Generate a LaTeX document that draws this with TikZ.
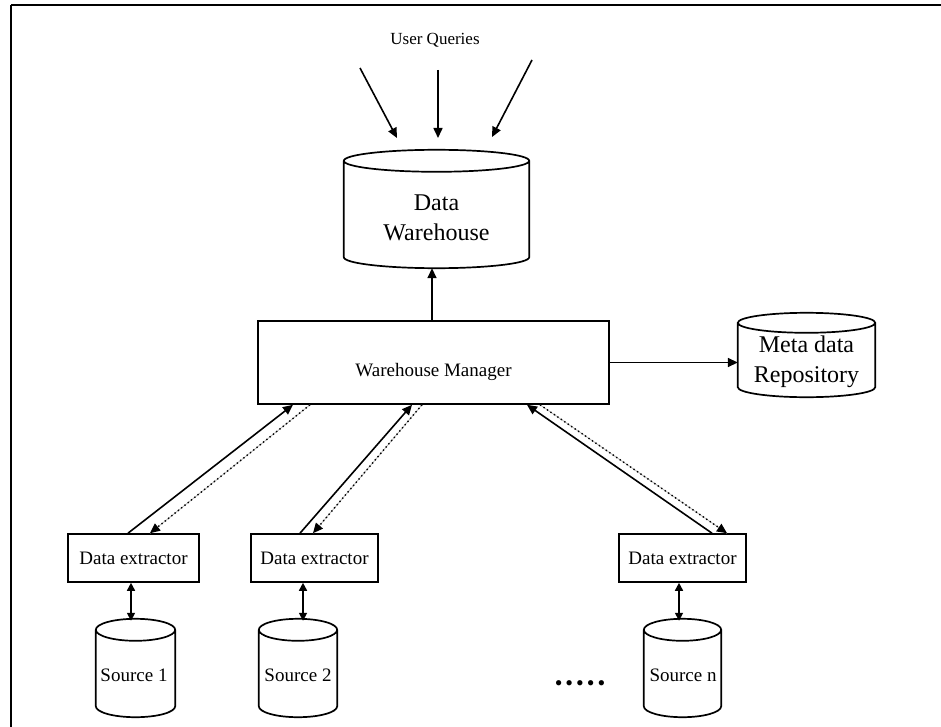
\documentclass[tikz,border=0pt]{standalone}
\usepackage{fontspec}
\setmainfont{Liberation Serif}
\usetikzlibrary{arrows.meta,calc}

% cylinder outline drawn over a (blank) node: #1 node name, #2 end-ellipse y radius
\newcommand\drumoutline[2]{%
  \draw[cylline] let \p1=(#1.north west), \p2=(#1.south east), \n1={(\x2-\x1)/2} in
    (\x1,\y1-#2pt) -- (\x1,\y2+#2pt)
    arc[start angle=180,end angle=360,x radius=\n1,y radius=#2pt]
    -- (\x2,\y1-#2pt)
    (\x1+\n1,\y1-#2pt) ellipse[x radius=\n1,y radius=#2pt];}

\begin{document}
\begin{tikzpicture}[x=1pt,y=-1pt,
  box/.style={draw, line width=1.6pt, inner sep=0pt},
  drum/.style={inner sep=0pt},
  cylline/.style={line width=1.7pt},
  tip/.style={line width=1.6pt, -{Triangle[length=10pt,width=9pt]}},
  dbl/.style={line width=1.6pt, {Triangle[length=8pt,width=8pt]}-{Triangle[length=8pt,width=8pt]}},
  dotline/.style={-{Triangle[length=10pt,width=9pt]}, line width=1.4pt,
    dash pattern=on 1.4pt off 2.8pt,
    preaction={draw=gray!55, line width=0.8pt, solid, -}},
  big/.style={font=\fontsize{24}{30}\selectfont, align=center, inner sep=0pt},
  mid/.style={font=\fontsize{19}{23}\selectfont, inner sep=0pt},
  small/.style={font=\fontsize{17}{20}\selectfont, inner sep=0pt}
]
\useasboundingbox (0,0) rectangle (941,727);

% page frame
\draw[line width=2.4pt] (11,5) -- (941,5);
\draw[line width=2pt] (11,5) -- (11,727);

% user queries
\node[small] (uq) at (435,40) {User Queries};
\coordinate (q1s) at (360,68);  \coordinate (q1e) at (397,138);
\coordinate (q2s) at (438,70);  \coordinate (q2e) at (438,138);
\coordinate (q3s) at (532,60);  \coordinate (q3e) at (492,137);
\draw[tip] (q1s) -- (q1e);
\draw[tip] (q2s) -- (q2e);
\draw[tip] (q3s) -- (q3e);

% data warehouse
\node[drum, minimum width=185, minimum height=118] (dw) at (436.5,209) {};
\drumoutline{dw}{11}
\node[big] (dwtext) at (436.5,218) {Data\\Warehouse};

% warehouse manager
\node[box, minimum width=351, minimum height=83] (mgr) at (433.5,362.5) {};
\node[mid] (mgrtext) at (433.5,372) {Warehouse Manager};

% meta data repository
\node[drum, minimum width=137, minimum height=84] (meta) at (806.5,355) {};
\drumoutline{meta}{10}
\node[big] (metatext) at (806.5,362) {Meta data\\Repository};

\draw[tip] ([xshift=-1.5]mgr.north) -- ([xshift=-1.5]mgr.north |- dw.south);
\draw[tip] (mgr.east) -- (mgr.east -| meta.west);

% data extractors
\node[box, mid, minimum width=131, minimum height=48] (ext1) at (133.5,558) {Data extractor};
\node[box, mid, minimum width=127, minimum height=48] (ext2) at (314.5,558) {Data extractor};
\node[box, mid, minimum width=127, minimum height=48] (ext3) at (682.5,558) {Data extractor};

\draw[tip] ([xshift=-5.5]ext1.north) -- ([xshift=-140.5]mgr.south);
\draw[dotline] ([xshift=-123.5]mgr.south) -- ([xshift=16.5]ext1.north);
\draw[tip] ([xshift=-14.5]ext2.north) -- ([xshift=-21.5]mgr.south);
\draw[dotline] ([xshift=-11.5]mgr.south) -- ([xshift=-1.5]ext2.north);
\draw[tip] ([xshift=29.5]ext3.north) -- ([xshift=93.5]mgr.south);
\draw[dotline] ([xshift=106.5]mgr.south) -- ([xshift=44.5]ext3.north);

% sources
\node[drum, minimum width=79, minimum height=98] (src1) at (135.5,668) {};
\drumoutline{src1}{11}
\node[mid] (src1text) at (134,675) {Source 1};
\node[drum, minimum width=78, minimum height=98] (src2) at (298,668) {};
\drumoutline{src2}{11}
\node[mid] (src2text) at (298,675) {Source 2};
\node[drum, minimum width=77, minimum height=98] (srcn) at (682.5,668) {};
\drumoutline{srcn}{11}
\node[mid] (srcntext) at (683,675) {Source n};

\draw[dbl] ([xshift=-4.5]src1.north |- ext1.south) -- ([xshift=-4.5,yshift=-2]src1.north);
\draw[dbl] ([xshift=5]src2.north |- ext2.south) -- ([xshift=5,yshift=-2]src2.north);
\draw[dbl] ([xshift=-3.5]srcn.north |- ext3.south) -- ([xshift=-3.5,yshift=-2]srcn.north);

\node[font=\fontsize{22}{24}\selectfont, inner sep=0pt] (more) at (580,686)
  {•\kern3pt•\kern3pt•\kern3pt•\kern3pt•};
\end{tikzpicture}
\end{document}
